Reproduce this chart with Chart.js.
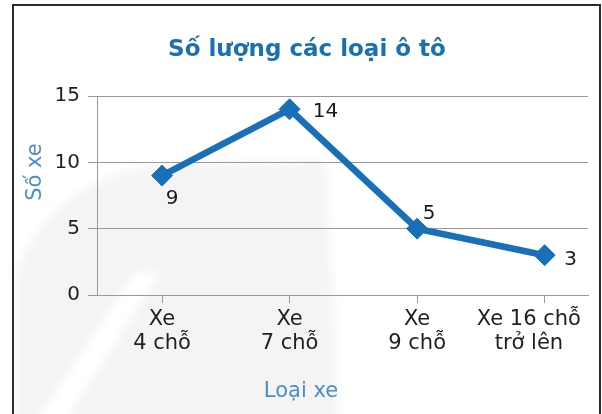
<!DOCTYPE html>
<html>
<head>
<meta charset="utf-8">
<script src="https://cdn.jsdelivr.net/npm/chart.js@4.4.1/dist/chart.umd.min.js"></script>
<style>
html,body{margin:0;padding:0;background:#fff;}
#wrap{position:absolute;left:0;top:0;width:602px;height:414px;}
</style>
</head>
<body>
<div id="wrap"><canvas id="c" width="602" height="414"></canvas></div>
<script>
const categories = [["Xe", "4 chỗ"], ["Xe", "7 chỗ"], ["Xe", "9 chỗ"], ["Xe 16 chỗ", "trở lên"]];
const values = [9, 14, 5, 3];
const yTicks = [0, 5, 10, 15];
const chartTitle = "Số lượng các loại ô tô";
const xTitle = "Loại xe";
const yTitle = "Số xe";

const FONT = "'DejaVu Sans', 'Liberation Sans', Arial, sans-serif";
const BLUE = "#1a70b8";
const TITLE_BLUE = "#1b6fb3";
const AXIS_BLUE = "#4a8ec8";
const LABEL_OFFSETS = [[10, 23], [36, 3], [12, -15], [26, 5]];

const framePlugin = {
  id: 'frame',
  beforeDraw(chart) {
    const ctx = chart.ctx;
    ctx.save();
    ctx.fillStyle = '#ffffff';
    ctx.fillRect(0, 0, 602, 414);
    // faint watermark shape (soft)
    ctx.save();
    ctx.filter = 'blur(5px)';
    ctx.fillStyle = '#f4f4f4';
    ctx.beginPath();
    ctx.moveTo(14, 280);
    ctx.quadraticCurveTo(50, 175, 170, 164);
    ctx.lineTo(325, 160);
    ctx.quadraticCurveTo(333, 290, 338, 430);
    ctx.lineTo(14, 430);
    ctx.closePath();
    ctx.fill();
    ctx.fillStyle = '#ffffff';
    ctx.beginPath();
    ctx.moveTo(30, 430);
    ctx.lineTo(60, 430);
    ctx.lineTo(160, 272);
    ctx.lineTo(135, 272);
    ctx.closePath();
    ctx.fill();
    ctx.restore();
    // frame
    ctx.strokeStyle = '#2b2b2b';
    ctx.lineWidth = 2;
    ctx.beginPath();
    ctx.moveTo(13, 414);
    ctx.lineTo(13, 5);
    ctx.lineTo(600, 5);
    ctx.lineTo(600, 414);
    ctx.stroke();
    ctx.restore();
  },
  afterDraw(chart) {
    const ctx = chart.ctx;
    ctx.save();
    ctx.textAlign = 'center';
    ctx.textBaseline = 'middle';
    ctx.fillStyle = TITLE_BLUE;
    ctx.font = "bold 23px " + FONT;
    ctx.fillText(chartTitle, 307, 50);
    ctx.fillStyle = AXIS_BLUE;
    ctx.font = "21px " + FONT;
    ctx.fillText(xTitle, 301, 392);
    ctx.translate(36, 172);
    ctx.rotate(-Math.PI / 2);
    ctx.fillText(yTitle, 0, 0);
    ctx.restore();
  }
};

const valueLabels = {
  id: 'valueLabels',
  afterDatasetsDraw(chart) {
    const ctx = chart.ctx;
    const meta = chart.getDatasetMeta(0);
    ctx.save();
    ctx.font = "20px " + FONT;
    ctx.fillStyle = '#1a1a1a';
    ctx.textAlign = 'center';
    ctx.textBaseline = 'middle';
    meta.data.forEach((pt, i) => {
      const o = LABEL_OFFSETS[i];
      ctx.fillText(String(values[i]), pt.x + o[0], pt.y + o[1]);
    });
    ctx.restore();
  }
};

// last category label sits a little left of its tick (as in the source)
const PAD = "\u2002\u2002\u2002";
function tickLabel(v) {
  const lines = categories[v];
  if (v === categories.length - 1) return lines.map(s => s + PAD);
  return lines;
}

new Chart(document.getElementById('c'), {
  type: 'line',
  data: {
    datasets: [{
      data: values.map((v, i) => ({x: i, y: v})),
      borderColor: BLUE,
      backgroundColor: BLUE,
      borderWidth: 6.5,
      pointStyle: 'rectRot',
      pointRadius: 10.5,
      pointBorderWidth: 1,
      pointBackgroundColor: BLUE,
      pointBorderColor: BLUE,
      tension: 0,
      fill: false
    }]
  },
  options: {
    responsive: false,
    animation: false,
    devicePixelRatio: 1,
    layout: {padding: {left: 0, right: 14, top: 96, bottom: 0}},
    plugins: {
      legend: {display: false},
      tooltip: {enabled: false},
      title: {display: false}
    },
    scales: {
      x: {
        type: 'linear',
        min: -0.51,
        max: 3.34,
        afterBuildTicks(scale) {
          scale.ticks = categories.map((c, i) => ({value: i}));
        },
        afterFit(scale) {
          scale.height = 119;
          scale.paddingLeft = 0;
          scale.paddingRight = 0;
        },
        grid: {display: true, drawOnChartArea: false, drawTicks: true, tickLength: 8, color: '#9a9a9a'},
        border: {display: true, color: '#9a9a9a', width: 1},
        ticks: {
          autoSkip: false,
          maxRotation: 0,
          padding: 4,
          color: '#1f1f1f',
          font: {family: FONT, size: 21, lineHeight: 1.15},
          callback: tickLabel
        }
      },
      y: {
        min: 0,
        max: 15,
        afterBuildTicks(scale) {
          scale.ticks = yTicks.map(v => ({value: v}));
        },
        afterFit(scale) { scale.width = 97; },
        grid: {color: '#9a9a9a', tickLength: 9, lineWidth: 1},
        border: {display: true, color: '#9a9a9a', width: 1},
        ticks: {
          padding: 8,
          color: '#1f1f1f',
          font: {family: FONT, size: 20}
        }
      }
    }
  },
  plugins: [framePlugin, valueLabels]
});
</script>
</body>
</html>
